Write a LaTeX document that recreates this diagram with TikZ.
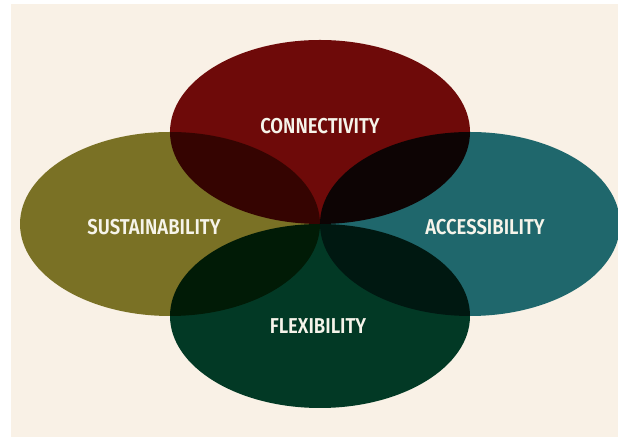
\documentclass[tikz,border=0pt]{standalone}
\usepackage{fontspec}
\setmainfont{Fira Sans}[BoldFont={Fira Sans SemiBold}, FakeStretch=0.86]
\usetikzlibrary{shapes.geometric, positioning}

\definecolor{paper}{RGB}{249,241,230}
\definecolor{brickred}{RGB}{113,11,11}
\definecolor{olive}{RGB}{125,120,42}
\definecolor{teal}{RGB}{32,109,120}
\definecolor{forest}{RGB}{3,61,42}
\definecolor{chalk}{RGB}{246,244,234}

\begin{document}
\begin{tikzpicture}[x=1pt, y=1pt,
        petal/.style={ellipse, inner sep=0pt, outer sep=0pt, minimum width=300pt, minimum height=184pt},
        tag/.style={text=chalk, font=\bfseries\fontsize{21.5}{21.5}\selectfont, inner sep=0pt}]

    % page and paper
    \useasboundingbox (0,0) rectangle (618,438);
    \fill[white] (0,0) rectangle (618,438);
    \fill[paper] (11,1) rectangle (618,434);

    \coordinate (hub) at (320,214);

    % four petals meeting in one point
    \begin{scope}[blend mode=multiply]
        \node (connect) [petal, fill=brickred, above=0pt of hub] {};
        \node (sustain) [petal, fill=olive, left=0pt of hub] {};
        \node (access) [petal, fill=teal, right=0pt of hub] {};
        \node (flex) [petal, fill=forest, below=0pt of hub] {};
    \end{scope}

    % labels
    \node (connect_tag) [tag] at ([yshift=6pt]connect.center) {CONNECTIVITY};
    \node (sustain_tag) [tag] at ([xshift=-16pt, yshift=-3pt]sustain.center) {SUSTAINABILITY};
    \node (access_tag) [tag] at ([xshift=15pt, yshift=-3pt]access.center) {ACCESSIBILITY};
    \node (flex_tag) [tag] at ([xshift=-2pt, yshift=-10pt]flex.center) {FLEXIBILITY};

\end{tikzpicture}
\end{document}
